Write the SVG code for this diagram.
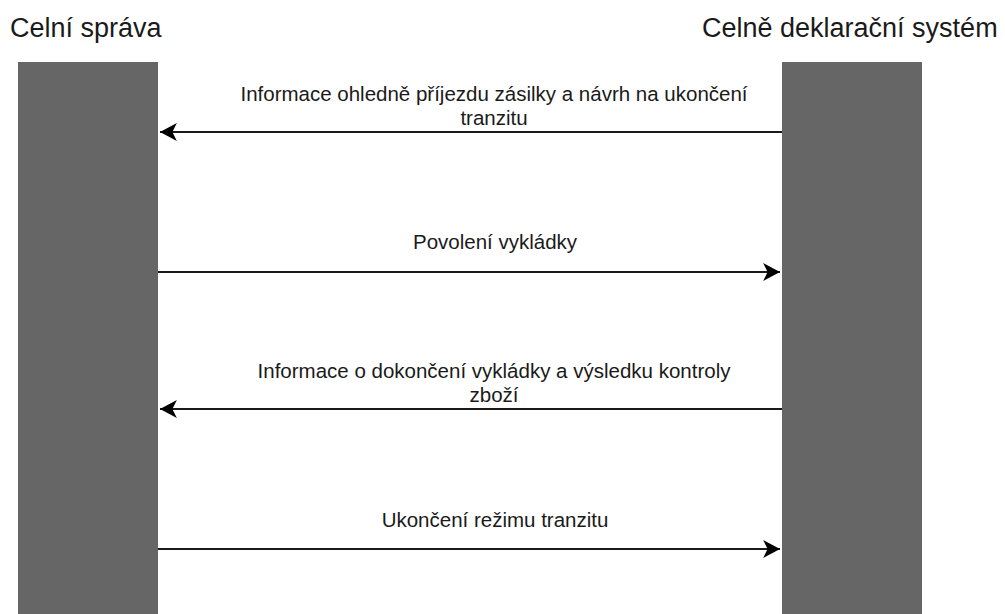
<svg xmlns="http://www.w3.org/2000/svg" width="1005" height="614" viewBox="0 0 1005 614">
<style>
.bar{fill:#666666;stroke:none}
.title{font-family:"Liberation Sans",Arial,sans-serif;font-size:27px;fill:#1a1a1a}
.lbl{font-family:"Liberation Sans",Arial,sans-serif;font-size:20.5px;fill:#1a1a1a;text-anchor:middle}
.msg{stroke:#1a1a1a;stroke-width:2;fill:none}
</style>
<defs>
<marker id="ah" markerUnits="userSpaceOnUse" markerWidth="18" markerHeight="18" viewBox="0 0 16 16" refX="15" refY="8" orient="auto">
<path d="M15,8 L0,0 L4,8 L0,16 Z" fill="#000"/>
</marker>
</defs>
<rect width="1005" height="614" fill="#ffffff"/>
<g id="celni-sprava">
<text class="title" x="10" y="37">Celní správa</text>
<rect class="bar" x="18" y="62" width="140" height="552"/>
</g>
<g id="deklaracni-system">
<text class="title" x="702" y="37">Celně deklarační systém</text>
<rect class="bar" x="782" y="62" width="140" height="552"/>
</g>
<g id="connectors">
<line class="msg" x1="782" y1="132" x2="160" y2="132" marker-end="url(#ah)"/>
<line class="msg" x1="158" y1="272" x2="780" y2="272" marker-end="url(#ah)"/>
<line class="msg" x1="782" y1="409" x2="160" y2="409" marker-end="url(#ah)"/>
<line class="msg" x1="158" y1="549" x2="780" y2="549" marker-end="url(#ah)"/>
</g>
<g id="labels">
<text class="lbl" x="494" y="101">Informace ohledně příjezdu zásilky a návrh na ukončení</text>
<text class="lbl" x="494" y="125">tranzitu</text>
<text class="lbl" x="495" y="249">Povolení vykládky</text>
<text class="lbl" x="494" y="378">Informace o dokončení vykládky a výsledku kontroly</text>
<text class="lbl" x="494" y="402">zboží</text>
<text class="lbl" x="495" y="527">Ukončení režimu tranzitu</text>
</g>
</svg>
